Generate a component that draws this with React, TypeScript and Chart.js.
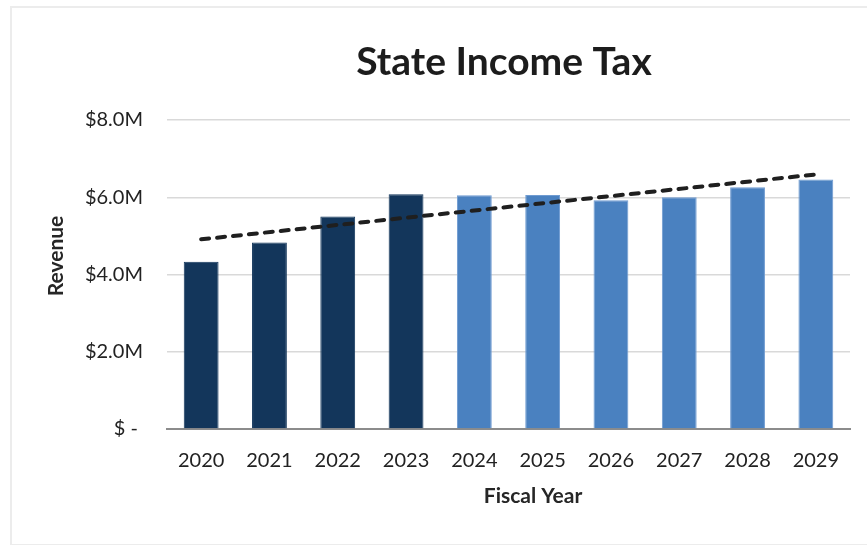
import React, { useEffect, useRef } from "react";
import { Chart, registerables } from "chart.js";

Chart.register(...registerables);

// ---- data ----
const years = ["2020", "2021", "2022", "2023", "2024", "2025", "2026", "2027", "2028", "2029"];
const revenueM = [4.33, 4.83, 5.5, 6.08, 6.05, 6.06, 5.92, 6.0, 6.26, 6.46];
const firstForecastYear = "2024";
const trendStartM = 4.91;
const trendEndM = 6.59;
const yTickValues = [0, 2, 4, 6, 8];
const yTickLabels = ["$ - ", "$2.0M", "$4.0M", "$6.0M", "$8.0M"];
const chartTitle = "State Income Tax";
const xTitle = "Fiscal Year";
const yTitle = "Revenue";

const DARK = "#13365b";
const LIGHT = "#4a81c0";
const FONT = "Lato, 'Open Sans', sans-serif";

export default function App() {
  const ref = useRef<HTMLCanvasElement | null>(null);

  useEffect(() => {
    const canvas = ref.current;
    if (!canvas) return;
    const forecastIdx = years.indexOf(firstForecastYear);
    const barColors = years.map((_, i) => (i < forecastIdx ? DARK : LIGHT));
    const barBorders = years.map((_, i) => (i < forecastIdx ? DARK : "#6f9bd1"));
    const trendData = years.map((_, i) =>
      i === 0 ? trendStartM : i === years.length - 1 ? trendEndM : null
    );

    const textPlugin = {
      id: "texts",
      afterDraw(chart: any) {
        const ctx = chart.ctx;
        ctx.save();
        ctx.fillStyle = "#1c1c1c";
        ctx.textAlign = "center";
        ctx.textBaseline = "middle";
        ctx.font = `bold 39px ${FONT}`;
        ctx.fillText(chartTitle, 504, 62);
        ctx.fillStyle = "#262626";
        ctx.font = `bold 21px ${FONT}`;
        ctx.fillText(xTitle, 533, 496);
        ctx.translate(56, 256);
        ctx.rotate(-Math.PI / 2);
        ctx.fillText(yTitle, 0, 0);
        ctx.restore();
      },
    };

    const chart = new Chart(canvas, {
      type: "bar",
      data: {
        labels: years,
        datasets: [
          {
            type: "line",
            label: "Trend",
            data: trendData,
            spanGaps: true,
            borderColor: "#1f1f1f",
            borderWidth: 4,
            borderDash: [8, 8],
            borderCapStyle: "round",
            pointRadius: 0,
            fill: false,
            order: 0,
          } as any,
          {
            type: "bar",
            label: "Revenue",
            data: revenueM,
            backgroundColor: barColors,
            borderColor: barBorders,
            borderWidth: 1,
            barPercentage: 0.51,
            categoryPercentage: 1,
            order: 1,
          },
        ],
      },
      options: {
        responsive: false,
        animation: false,
        layout: { padding: { left: 47, top: 120, right: 17, bottom: 0 } },
        plugins: {
          legend: { display: false },
          title: { display: false },
          tooltip: { enabled: false },
        },
        scales: {
          x: {
            grid: { display: false, drawTicks: false },
            border: { display: true, color: "#8c8c8c", width: 2 },
            ticks: {
              color: "#222222",
              font: { family: FONT, size: 20 },
              padding: 20,
              maxRotation: 0,
            },
            afterFit(scale: any) {
              scale.height = 116;
            },
          },
          y: {
            min: 0,
            max: 8,
            grid: { color: "#d9d9d9", lineWidth: 1.5, drawTicks: false },
            border: { display: false },
            afterBuildTicks(scale: any) {
              scale.ticks = yTickValues.map((v) => ({ value: v }));
            },
            ticks: {
              color: "#222222",
              font: { family: FONT, size: 20 },
              padding: 24,
              callback: (v: any) => {
                const i = yTickValues.indexOf(Number(v));
                return i >= 0 ? yTickLabels[i] : "";
              },
            },
            afterFit(scale: any) {
              scale.width = 120;
            },
          },
        },
      },
      plugins: [textPlugin],
    });
    return () => chart.destroy();
  }, []);

  return (
    <div
      style={{
        position: "fixed",
        left: 0,
        top: 0,
        width: 867,
        height: 545,
        background: "#fff",
        overflow: "hidden",
      }}
    >
      <div
        style={{
          position: "absolute",
          left: 10,
          top: 6,
          width: 880,
          height: 536,
          border: "2px solid #ececec",
        }}
      />
      <canvas
        ref={ref}
        width={867}
        height={545}
        style={{ position: "absolute", left: 0, top: 0, width: 867, height: 545 }}
      />
    </div>
  );
}
